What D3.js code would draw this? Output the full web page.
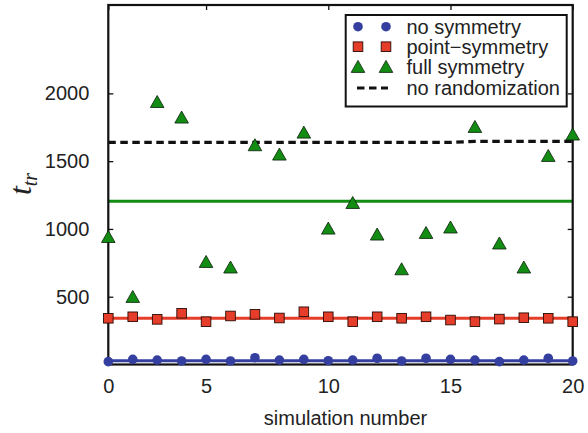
<!DOCTYPE html>
<html>
<head>
<meta charset="utf-8">
<script src="https://cdn.jsdelivr.net/npm/d3@7/dist/d3.min.js"></script>
<style>
  html, body { margin: 0; padding: 0; background: #fff; }
  svg { display: block; font-family: "Liberation Sans", Arial, sans-serif; }
</style>
</head>
<body>
<svg id="chart" width="588" height="433"></svg>
<script>
// Simulation index (1..20), shown on the axis as 0..20
const simulations = d3.range(1, 21);
const xTickValues = [1, 5, 10, 15, 20];
const xTickLabels = ["0", "5", "10", "15", "20"];
const yTickValues = [500, 1000, 1500, 2000];

// Transient time per simulation for each symmetry setting
const noSymmetry = [21, 38, 33, 26, 38, 26, 50, 33, 38, 28, 33, 46, 26, 46, 38, 33, 21, 33, 46, 26];
const pointSymmetry = [341, 352, 333, 378, 316, 358, 370, 343, 389, 352, 316, 352, 341, 352, 328, 316, 335, 345, 341, 316];
const fullSymmetry = [942, 500, 1938, 1823, 758, 717, 1619, 1550, 1712, 1004, 1193, 960, 704, 972, 1012, 1754, 894, 717, 1540, 1698];
const noRandomization = [1638, 1638, 1638, 1638, 1638, 1638, 1638, 1638, 1638, 1638, 1638, 1638, 1638, 1638, 1638, 1646, 1646, 1646, 1646, 1646];

// Average levels drawn as horizontal lines
const meanNoSymmetry = 28;
const meanPointSymmetry = 341;
const meanFullSymmetry = 1205;

const legendLabels = ["no symmetry", "point\u2212symmetry", "full symmetry", "no randomization"];

const BLUE = "#343fa0", RED = "#e53d29", GREEN = "#138c13";

const svg = d3.select("#chart");
const plot = { left: 108.3, right: 572.7, top: 5, bottom: 364.5 };

const x = d3.scaleLinear().domain([1, 20]).range([plot.left, plot.right]);
const y = d3.scaleLinear().domain([0, 2652]).range([plot.bottom, plot.top]);

const textColor = "#222";

// Mean lines
const hline = (v, color) => svg.append("line")
  .attr("x1", plot.left).attr("x2", plot.right)
  .attr("y1", y(v)).attr("y2", y(v))
  .attr("stroke", color).attr("stroke-width", 3);
hline(meanFullSymmetry, GREEN);
hline(meanPointSymmetry, RED);
hline(meanNoSymmetry, BLUE);

// No-randomization reference, dashed
const line = d3.line().x((d, i) => x(simulations[i])).y(d => y(d));
svg.append("path")
  .datum(noRandomization)
  .attr("d", line)
  .attr("fill", "none")
  .attr("stroke", "#111")
  .attr("stroke-width", 3.2)
  .attr("stroke-dasharray", "7.5,4.5");

// Axes box with inward ticks on all sides
const axisG = svg.append("g");
const bottomAxis = d3.axisBottom(x).tickValues(xTickValues).tickSizeInner(-5).tickSizeOuter(0)
  .tickFormat((d, i) => xTickLabels[i]).tickPadding(14);
const topAxis = d3.axisTop(x).tickValues(xTickValues).tickSizeInner(-5).tickSizeOuter(0).tickFormat("");
const leftAxis = d3.axisLeft(y).tickValues(yTickValues).tickSizeInner(-5).tickSizeOuter(0)
  .tickFormat(d3.format("d")).tickPadding(19);
const rightAxis = d3.axisRight(y).tickValues(yTickValues).tickSizeInner(-5).tickSizeOuter(0).tickFormat("");

const gB = axisG.append("g").attr("transform", `translate(0,${plot.bottom})`).call(bottomAxis);
const gT = axisG.append("g").attr("transform", `translate(0,${plot.top})`).call(topAxis);
const gL = axisG.append("g").attr("transform", `translate(${plot.left},0)`).call(leftAxis);
const gR = axisG.append("g").attr("transform", `translate(${plot.right},0)`).call(rightAxis);
[gB, gT, gL, gR].forEach(g => {
  g.select(".domain").remove();
  g.selectAll(".tick line").attr("stroke", "#111").attr("stroke-width", 1.3);
  g.selectAll("text").attr("font-size", 20).attr("fill", textColor)
    .attr("font-family", "'Liberation Sans', Arial, sans-serif");
});
gB.selectAll("text").attr("dy", "0.71em");

axisG.append("rect")
  .attr("x", plot.left).attr("y", plot.top)
  .attr("width", plot.right - plot.left).attr("height", plot.bottom - plot.top)
  .attr("fill", "none").attr("stroke", "#111").attr("stroke-width", 2.2);

// Markers
const triPath = "M0,-6.3L6.8,5.7L-6.8,5.7Z";
svg.append("g").selectAll("path").data(fullSymmetry).join("path")
  .attr("transform", (d, i) => `translate(${x(simulations[i])},${y(d)})`)
  .attr("d", triPath)
  .attr("fill", GREEN).attr("stroke", "#0a200a").attr("stroke-width", 0.8);

svg.append("g").selectAll("rect").data(pointSymmetry).join("rect")
  .attr("x", (d, i) => x(simulations[i]) - 4.8)
  .attr("y", d => y(d) - 4.8)
  .attr("width", 9.6).attr("height", 9.6)
  .attr("fill", RED).attr("stroke", "#2a0a05").attr("stroke-width", 0.9);

svg.append("g").selectAll("circle").data(noSymmetry).join("circle")
  .attr("cx", (d, i) => x(simulations[i]))
  .attr("cy", d => y(d))
  .attr("r", 4.8)
  .attr("fill", BLUE);

// Legend
const lg = svg.append("g");
lg.append("rect").attr("x", 345.7).attr("y", 15).attr("width", 221).attr("height", 91.5)
  .attr("fill", "#fff").attr("stroke", "#111").attr("stroke-width", 2);
const rowY = [26.7, 46.7, 66.7, 88];
const mx = [358, 386];
mx.forEach(cx => {
  lg.append("circle").attr("cx", cx).attr("cy", rowY[0]).attr("r", 4.8).attr("fill", BLUE);
  lg.append("rect").attr("x", cx - 4.8).attr("y", rowY[1] - 4.8).attr("width", 9.6).attr("height", 9.6)
    .attr("fill", RED).attr("stroke", "#2a0a05").attr("stroke-width", 0.9);
  lg.append("path").attr("transform", `translate(${cx},${rowY[2]})`).attr("d", triPath)
    .attr("fill", GREEN).attr("stroke", "#0a200a").attr("stroke-width", 0.8);
});
lg.append("line").attr("x1", 357).attr("x2", 388).attr("y1", rowY[3]).attr("y2", rowY[3])
  .attr("stroke", "#111").attr("stroke-width", 3.2).attr("stroke-dasharray", "7.5,4.5");
legendLabels.forEach((t, i) => {
  lg.append("text").attr("x", 406.5).attr("y", rowY[i]).attr("dy", "0.35em")
    .attr("font-size", 20).attr("fill", textColor).text(t);
});

// Axis titles
svg.append("text")
  .attr("x", (plot.left + plot.right) / 2 + 5).attr("y", 425)
  .attr("text-anchor", "middle").attr("font-size", 20).attr("fill", textColor)
  .text("simulation number");

const yl = svg.append("text")
  .attr("transform", "translate(31,184) rotate(-90)")
  .attr("text-anchor", "middle")
  .attr("font-family", "'Liberation Serif', 'Times New Roman', serif")
  .attr("font-style", "italic").attr("fill", textColor);
yl.append("tspan").attr("font-size", 32).text("t");
yl.append("tspan").attr("font-size", 20).attr("dy", 6).text("tr");
</script>
</body>
</html>
